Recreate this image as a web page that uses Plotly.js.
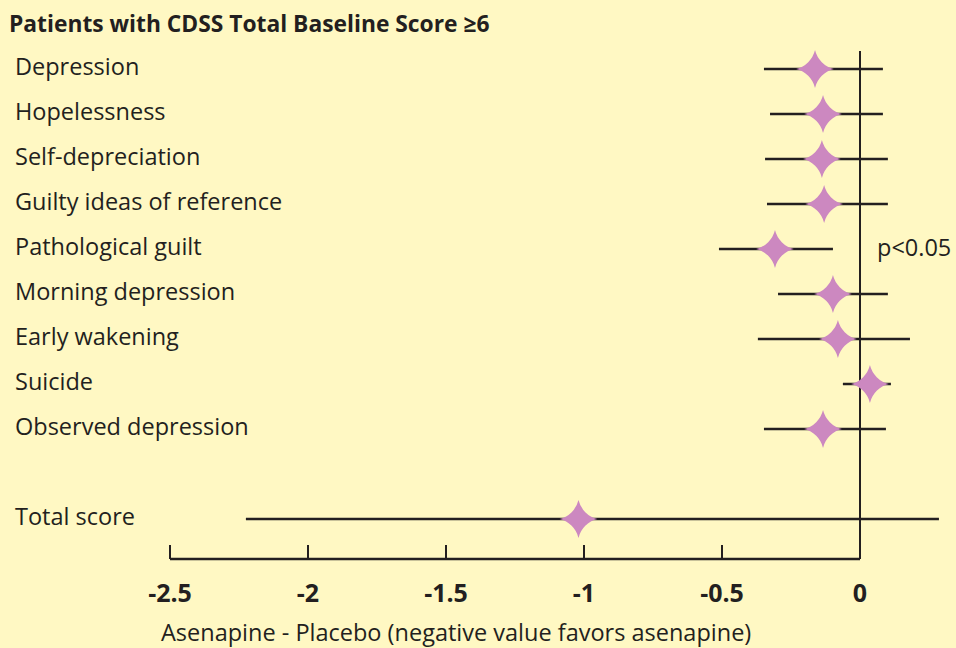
<!DOCTYPE html>
<html>
<head>
<meta charset="utf-8">
<script src="https://cdn.plot.ly/plotly-3.0.1.min.js"></script>
<style>html,body{margin:0;padding:0;background:#FFF8C3;}#chart{width:956px;height:648px;}</style>
</head>
<body>
<div id="chart"></div>
<script>
var categories = ["Depression","Hopelessness","Self-depreciation","Guilty ideas of reference","Pathological guilt","Morning depression","Early wakening","Suicide","Observed depression","Total score"];
var rowPos = [0,1,2,3,4,5,6,7,8,10];
var estimate = [-0.163,-0.134,-0.138,-0.130,-0.308,-0.098,-0.080,0.036,-0.134,-1.02];
var lower = [-0.348,-0.326,-0.344,-0.337,-0.511,-0.297,-0.370,-0.062,-0.348,-2.225];
var upper = [0.083,0.083,0.101,0.101,-0.098,0.101,0.181,0.112,0.094,0.286];
var tickVals = [-2.5,-2,-1.5,-1,-0.5,0];
var tickText = ["-2.5","-2","-1.5","-1","-0.5","0"];
var titleText = "Patients with CDSS Total Baseline Score \u22656";
var xTitleText = "Asenapine - Placebo (negative value favors asenapine)";
var sigNote = "p<0.05";
var sigRow = 4;

var ink = "#231f20";
var FONT = "Open Sans, sans-serif";

var plus = estimate.map(function(v,i){return upper[i]-v;});
var minus = estimate.map(function(v,i){return v-lower[i];});

var trace = {
  type: "scatter", mode: "markers",
  x: estimate, y: rowPos,
  marker: {symbol: "star-diamond", size: 27, color: "#CC88C0", line: {width: 0}},
  error_x: {type: "data", symmetric: false, array: plus, arrayminus: minus, thickness: 2.6, width: 0, color: ink},
  cliponaxis: false, hoverinfo: "skip"
};

var annotations = categories.map(function(c,i){
  return {text: c, xref: "paper", yref: "y", x: 13/956, y: rowPos[i], xanchor: "left", yanchor: "middle", yshift: 3, showarrow: false, font: {size: 23.5, family: FONT, color: ink}};
});
annotations.push({text: xTitleText, xref: "paper", yref: "paper", x: 456/956, y: -(632-559)/508, xanchor: "center", yanchor: "middle", showarrow: false, font: {size: 23.5, family: FONT, color: ink}});
annotations.push({text: sigNote, xref: "paper", yref: "y", x: 875/956, y: sigRow, xanchor: "left", yanchor: "middle", yshift: 2, showarrow: false, font: {size: 23.5, family: FONT, color: ink}});

var layout = {
  width: 956, height: 648,
  paper_bgcolor: "#FFF8C3", plot_bgcolor: "#FFF8C3",
  margin: {l: 0, r: 0, t: 51, b: 89},
  showlegend: false,
  font: {family: FONT, color: ink},
  title: {text: "<b>" + titleText + "</b>", x: 9/956, xanchor: "left", xref: "paper", y: 1 - 24/648, yanchor: "middle", yref: "container", font: {size: 22.8, family: FONT, color: ink}},
  xaxis: {
    range: [-860/276, 96/276], showgrid: false, showline: false,
    zeroline: true, zerolinecolor: ink, zerolinewidth: 2.6,
    tickmode: "array", tickvals: tickVals, ticktext: tickText,
    ticks: "inside", ticklen: 14, tickwidth: 2.6, tickcolor: ink,
    tickfont: {size: 25, family: FONT, color: ink, weight: "bold"},
    ticklabelstandoff: 17
  },
  yaxis: {
    range: [(559-69)/45, (51-69)/45], showgrid: false, zeroline: false, showline: false,
    showticklabels: false, ticks: ""
  },
  shapes: [{type: "line", xref: "x", yref: "paper", x0: tickVals[0], x1: tickVals[tickVals.length-1], y0: 0, y1: 0, line: {color: ink, width: 2.6}}],
  annotations: annotations
};

Plotly.newPlot("chart", [trace], layout, {displayModeBar: false, staticPlot: true});
</script>
</body>
</html>
